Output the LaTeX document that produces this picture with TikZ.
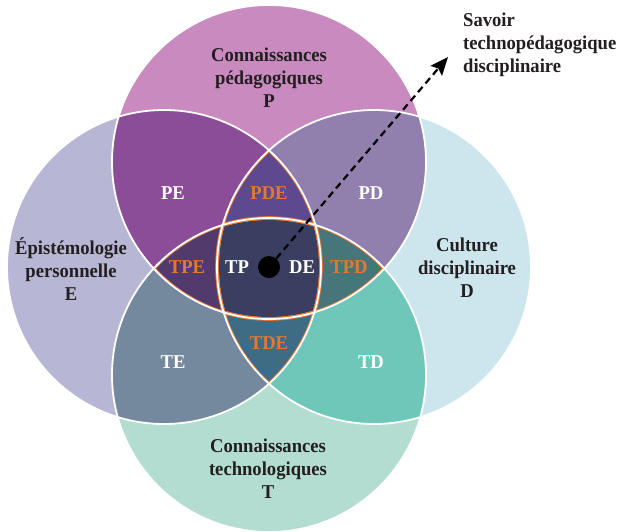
\documentclass[tikz,border=0pt]{standalone}
\usepackage{fontspec}
\setmainfont{Liberation Serif}[FakeStretch=0.95]
\usetikzlibrary{arrows.meta}
\definecolor{colP}{RGB}{201,139,191}
\definecolor{colE}{RGB}{183,182,212}
\definecolor{colD}{RGB}{205,230,238}
\definecolor{colT}{RGB}{179,221,208}
\definecolor{colPE}{RGB}{139,76,152}
\definecolor{colPD}{RGB}{145,127,173}
\definecolor{colTE}{RGB}{116,136,158}
\definecolor{colTD}{RGB}{111,199,186}
\definecolor{colPDE}{RGB}{94,72,142}
\definecolor{colTPE}{RGB}{82,58,108}
\definecolor{colTPD}{RGB}{70,117,122}
\definecolor{colTDE}{RGB}{62,108,133}
\definecolor{colC}{RGB}{58,62,96}
\definecolor{orng}{RGB}{226,120,56}
\definecolor{txt}{RGB}{35,31,32}
\def\R{157pt}
\tikzset{
  bigtxt/.style={font=\fontsize{19.6}{23}\selectfont\bfseries, text=txt, align=center, inner sep=0pt},
  wlab/.style={font=\fontsize{19.6}{23}\selectfont\bfseries, text=white, inner sep=0pt},
  olab/.style={font=\fontsize{19.6}{23}\selectfont\bfseries, text=orng, inner sep=0pt},
  obord/.style={draw=orng, line width=3.6pt},
  wbord/.style={draw=white, line width=1.8pt}
}
\begin{document}
\begin{tikzpicture}[x=1pt,y=-1pt]
\useasboundingbox (0,0) rectangle (617,531);
\clip (0,0) rectangle (617,531);
\coordinate (cp) at (269,162);
\coordinate (ct) at (269,375);
\coordinate (ce) at (164,267);
\coordinate (cd) at (374,267);
% single circles
\fill[colP] (cp) circle[radius=\R];
\fill[colE] (ce) circle[radius=\R];
\fill[colD] (cd) circle[radius=\R];
\fill[colT] (ct) circle[radius=\R];
% pairs
\begin{scope}\clip (cp) circle[radius=\R]; \fill[colPE] (ce) circle[radius=\R];\end{scope}
\begin{scope}\clip (cp) circle[radius=\R]; \fill[colPD] (cd) circle[radius=\R];\end{scope}
\begin{scope}\clip (ct) circle[radius=\R]; \fill[colTE] (ce) circle[radius=\R];\end{scope}
\begin{scope}\clip (ct) circle[radius=\R]; \fill[colTD] (cd) circle[radius=\R];\end{scope}
% triples
\begin{scope}\clip (cp) circle[radius=\R]; \clip (cd) circle[radius=\R]; \fill[colPDE] (ce) circle[radius=\R];\end{scope}
\begin{scope}\clip (ct) circle[radius=\R]; \clip (cp) circle[radius=\R]; \fill[colTPE] (ce) circle[radius=\R];\end{scope}
\begin{scope}\clip (ct) circle[radius=\R]; \clip (cp) circle[radius=\R]; \fill[colTPD] (cd) circle[radius=\R];\end{scope}
\begin{scope}\clip (ct) circle[radius=\R]; \clip (cd) circle[radius=\R]; \fill[colTDE] (ce) circle[radius=\R];\end{scope}
% centre
\begin{scope}\clip (cp) circle[radius=\R]; \clip (cd) circle[radius=\R]; \clip (ce) circle[radius=\R]; \fill[colC] (ct) circle[radius=\R];\end{scope}
% orange borders of the inner regions
\begin{scope}\clip (cp) circle[radius=\R]; \clip (cd) circle[radius=\R]; \clip (ce) circle[radius=\R];
  \path[obord] (cp) circle[radius=\R] (cd) circle[radius=\R] (ce) circle[radius=\R] (ct) circle[radius=\R];\end{scope}
\begin{scope}\clip (ct) circle[radius=\R]; \clip (cp) circle[radius=\R]; \clip (ce) circle[radius=\R];
  \path[obord] (cp) circle[radius=\R] (cd) circle[radius=\R] (ce) circle[radius=\R] (ct) circle[radius=\R];\end{scope}
\begin{scope}\clip (ct) circle[radius=\R]; \clip (cp) circle[radius=\R]; \clip (cd) circle[radius=\R];
  \path[obord] (cp) circle[radius=\R] (cd) circle[radius=\R] (ce) circle[radius=\R] (ct) circle[radius=\R];\end{scope}
\begin{scope}\clip (ct) circle[radius=\R]; \clip (cd) circle[radius=\R]; \clip (ce) circle[radius=\R];
  \path[obord] (cp) circle[radius=\R] (cd) circle[radius=\R] (ce) circle[radius=\R] (ct) circle[radius=\R];\end{scope}
% white outlines
\path[wbord] (cp) circle[radius=\R] (cd) circle[radius=\R] (ce) circle[radius=\R] (ct) circle[radius=\R];
% main labels
\node[bigtxt] (lP) at (269,78) {Connaissances\\pédagogiques\\P};
\node[bigtxt] (lE) at (71,269) {Épistémologie\\personnelle\\E};
\node[bigtxt] (lD) at (467,268) {Culture\\disciplinaire\\D};
\node[bigtxt] (lT) at (268,469) {Connaissances\\technologiques\\T};
\node[bigtxt, align=left, anchor=north west] (lS) at (463,13) {Savoir\\technopédagogique\\disciplinaire};
% region labels
\node[wlab] (rPE) at (173,193) {PE};
\node[wlab] (rPD) at (371,193) {PD};
\node[wlab] (rTE) at (173,362) {TE};
\node[wlab] (rTD) at (371,362) {TD};
\node[wlab] (rTP) at (237,267) {TP};
\node[wlab] (rDE) at (302,267) {DE};
\node[olab] (rPDE) at (269,193) {PDE};
\node[olab] (rTPE) at (187,267) {TPE};
\node[olab] (rTPD) at (349,267) {TPD};
\node[olab] (rTDE) at (269,343) {TDE};
% dot and arrow
\node[circle, fill=black, minimum size=22pt, inner sep=0pt] (dot) at (269,267) {};
\coordinate (tip) at (448,57);
\draw[line width=2.2pt, dash pattern=on 7pt off 4.5pt, -{Stealth[length=18pt,width=15pt,inset=3pt]}] (dot) -- (tip);
\end{tikzpicture}
\end{document}
